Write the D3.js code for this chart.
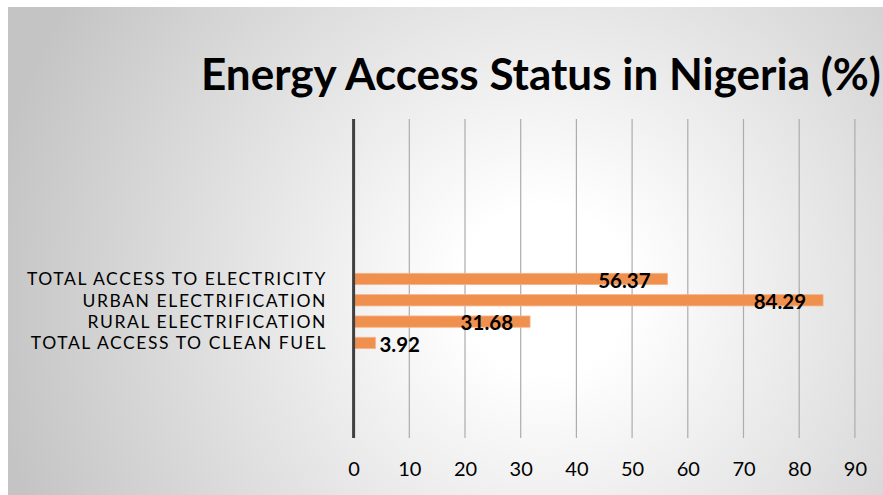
<!DOCTYPE html>
<html>
<head>
<meta charset="utf-8">
<script src="https://cdn.jsdelivr.net/npm/d3@7"></script>
<style>
  html, body { margin: 0; padding: 0; background: #ffffff; }
  svg { display: block; }
  text { font-family: Lato, "Open Sans", "DejaVu Sans", sans-serif; fill: #000; }
</style>
</head>
<body>
<svg id="chart" width="883" height="495"></svg>
<script>
// Chart data
const titleText = "Energy Access Status in Nigeria (%)";
const categories = [
  "TOTAL ACCESS TO ELECTRICITY",
  "URBAN ELECTRIFICATION",
  "RURAL ELECTRIFICATION",
  "TOTAL ACCESS TO CLEAN FUEL"
];
const values = [56.37, 84.29, 31.68, 3.92];
const xTicks = [0, 10, 20, 30, 40, 50, 60, 70, 80, 90];

const W = 883, H = 495;
const svg = d3.select("#chart");

// Radial grey-to-white background
const defs = svg.append("defs");
const grad = defs.append("radialGradient")
  .attr("id", "bg")
  .attr("gradientUnits", "userSpaceOnUse")
  .attr("cx", 545).attr("cy", 290).attr("r", 560);
grad.append("stop").attr("offset", 0).attr("stop-color", "#ffffff");
grad.append("stop").attr("offset", 0.15).attr("stop-color", "#ffffff");
grad.append("stop").attr("offset", 1).attr("stop-color", "#c4c4c4");

svg.append("rect")
  .attr("x", 8).attr("y", 7)
  .attr("width", W - 8).attr("height", H - 7)
  .attr("fill", "url(#bg)");

// Scales
const plotTop = 119, plotBottom = 438;
const x = d3.scaleLinear().domain([0, 90]).range([353.6, 854.9]);
const y = d3.scaleBand()
  .domain(categories)
  .range([268.3, 353.6])
  .paddingInner(0.47)
  .paddingOuter(0.235);

// Vertical gridlines
svg.append("g")
  .selectAll("line")
  .data(xTicks.filter(d => d > 0))
  .join("line")
  .attr("x1", d => x(d)).attr("x2", d => x(d))
  .attr("y1", plotTop).attr("y2", plotBottom)
  .attr("stroke", "#acacac")
  .attr("stroke-width", 1.2);

// Bars
svg.append("g")
  .selectAll("rect")
  .data(values)
  .join("rect")
  .attr("x", x(0))
  .attr("y", (d, i) => y(categories[i]))
  .attr("width", d => x(d) - x(0))
  .attr("height", y.bandwidth())
  .attr("fill", "#f0904f")
  .attr("stroke", "#f6b48a")
  .attr("stroke-width", 0.8);

// Category axis line at zero
svg.append("line")
  .attr("x1", x(0)).attr("x2", x(0))
  .attr("y1", plotTop).attr("y2", plotBottom)
  .attr("stroke", "#404040")
  .attr("stroke-width", 3);

// Bottom value axis (labels only)
const xAxis = d3.axisBottom(x)
  .tickValues(xTicks)
  .tickSize(0)
  .tickPadding(0)
  .tickFormat(d3.format("d"));
const gx = svg.append("g")
  .attr("transform", `translate(0, ${plotBottom})`)
  .call(xAxis);
gx.select(".domain").remove();
gx.selectAll("text")
  .attr("y", 38)
  .attr("dy", null)
  .style("font-family", "Lato, 'Open Sans', sans-serif")
  .style("font-size", "20px")
  .attr("fill", "#000");

// Category labels: compact size, letter-spaced so the longest spans ~300px
const yAxis = d3.axisLeft(y).tickSize(0).tickPadding(0);
const gy = svg.append("g")
  .attr("transform", `translate(327, 0)`)
  .call(yAxis);
gy.select(".domain").remove();
const catText = gy.selectAll("text")
  .attr("x", 0)
  .attr("dy", "0.37em")
  .style("font-family", "Lato, 'Open Sans', sans-serif")
  .style("font-size", "17.5px")
  .attr("fill", "#000");
const longestNode = catText.nodes().reduce((a, b) =>
  b.getComputedTextLength() > a.getComputedTextLength() ? b : a);
const spacing = (300 - longestNode.getComputedTextLength()) / longestNode.textContent.length;
catText.style("letter-spacing", spacing.toFixed(2) + "px");

// Data labels
svg.append("g")
  .selectAll("text")
  .data(values)
  .join("text")
  .attr("x", d => d > 10 ? x(d) - 17 : x(d) + 4)
  .attr("y", (d, i) => y(categories[i]) + 14.5)
  .attr("text-anchor", d => d > 10 ? "end" : "start")
  .style("font-size", "20.5px")
  .style("font-weight", "700")
  .text(d => d3.format(".2f")(d));

// Title, sized to span its width
const title = svg.append("text")
  .attr("x", 201)
  .attr("y", 90)
  .style("font-weight", "700")
  .style("font-size", "38px")
  .text(titleText);
const natural = title.node().getComputedTextLength();
title.style("font-size", (38 * 680 / natural).toFixed(2) + "px");
</script>
</body>
</html>
